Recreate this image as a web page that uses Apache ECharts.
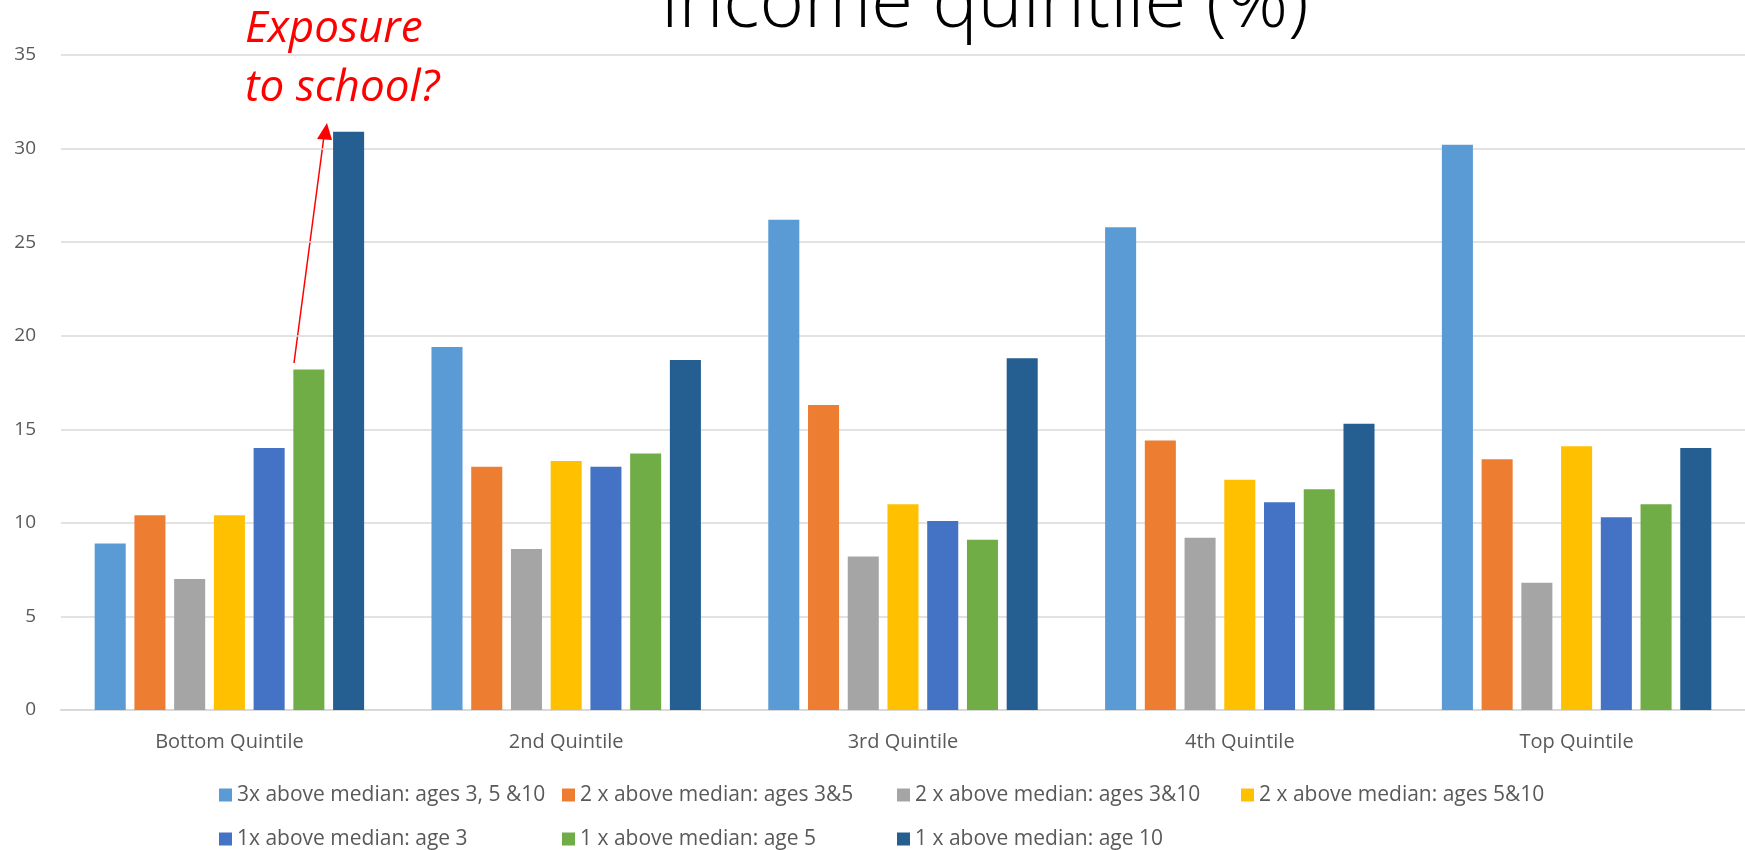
<!DOCTYPE html>
<html lang="en">
<head>
<meta charset="utf-8">
<title>Income quintile (%)</title>
<script src="https://cdn.jsdelivr.net/npm/echarts@6/dist/echarts.min.js"></script>
<style>
  html, body { margin: 0; padding: 0; background: #fff; }
  #chart { width: 1745px; height: 850px; }
</style>
</head>
<body>
<div id="chart"></div>
<script>
const QUINTILES = ["Bottom Quintile", "2nd Quintile", "3rd Quintile", "4th Quintile", "Top Quintile"];

const SERIES_NAMES = [
  "3x above median: ages 3, 5 &10",
  "2 x above median: ages 3&5",
  "2 x above median: ages 3&10",
  "2 x above median: ages 5&10",
  "1x above median: age 3",
  "1 x above median: age 5",
  "1 x above median: age 10"
];

const SERIES_COLORS = ["#5B9BD5", "#ED7D31", "#A5A5A5", "#FFC000", "#4472C4", "#70AD47", "#255E91"];

const ABOVE_3_5_10 = [8.9, 19.4, 26.2, 25.8, 30.2];
const ABOVE_3_5 = [10.4, 13.0, 16.3, 14.4, 13.4];
const ABOVE_3_10 = [7.0, 8.6, 8.2, 9.2, 6.8];
const ABOVE_5_10 = [10.4, 13.3, 11.0, 12.3, 14.1];
const ABOVE_AGE_3 = [14.0, 13.0, 10.1, 11.1, 10.3];
const ABOVE_AGE_5 = [18.2, 13.7, 9.1, 11.8, 11.0];
const ABOVE_AGE_10 = [30.9, 18.7, 18.8, 15.3, 14.0];

const Y_TICKS = [0, 5, 10, 15, 20, 25, 30, 35];

const LABEL_FONT = "'Open Sans', 'Liberation Sans', sans-serif";

document.addEventListener("DOMContentLoaded", () => {
  const chart = echarts.init(document.getElementById("chart"), null, { renderer: "canvas" });
  chart.setOption(buildOption());
});

function buildOption() {
  const values = [ABOVE_3_5_10, ABOVE_3_5, ABOVE_3_10, ABOVE_5_10, ABOVE_AGE_3, ABOVE_AGE_5, ABOVE_AGE_10];

  const series = SERIES_NAMES.map((name, i) => ({
    name,
    type: "bar",
    data: values[i],
    barGap: "28%",
    barCategoryGap: "20%",
    itemStyle: { color: SERIES_COLORS[i] },
    emphasis: { disabled: true }
  }));

  // one legend per key so the keys sit in columns like the original
  const columnLeft = [219, 562, 897, 1241];
  const rowTop = [784, 828];
  const legend = SERIES_NAMES.map((name, i) => ({
    data: [name],
    left: columnLeft[i % 4],
    top: rowTop[Math.floor(i / 4)],
    padding: 0,
    itemWidth: 13,
    itemHeight: 13,
    itemGap: 0,
    icon: "rect",
    selectedMode: false,
    textStyle: { fontFamily: LABEL_FONT, fontSize: 21, color: "#595959", lineHeight: 22 }
  }));

  return {
    animation: false,
    backgroundColor: "#ffffff",
    grid: { left: 61, right: -13, top: 55, bottom: 140, containLabel: false },
    legend,
    xAxis: {
      type: "category",
      data: QUINTILES,
      axisTick: { show: false },
      axisLine: { lineStyle: { color: "#d9d9d9", width: 2 } },
      axisLabel: { fontFamily: LABEL_FONT, fontSize: 20, color: "#595959", margin: 22 }
    },
    yAxis: {
      type: "value",
      min: Y_TICKS[0],
      max: Y_TICKS[Y_TICKS.length - 1],
      interval: 5,
      axisLine: { show: false },
      axisTick: { show: false },
      splitLine: { lineStyle: { color: "#d9d9d9", width: 1.5 } },
      axisLabel: { fontFamily: LABEL_FONT, fontSize: 19, color: "#595959", margin: 25 }
    },
    series,
    graphic: [
      {
        type: "text",
        x: 985,
        y: 5,
        style: {
          text: "income quintile (%)",
          fill: "#000000",
          font: "300 76px 'Open Sans', 'Liberation Sans', sans-serif",
          align: "center",
          verticalAlign: "middle"
        }
      },
      {
        type: "text",
        x: 245,
        y: 59,
        style: {
          text: "Exposure\nto school?",
          fill: "#FF0000",
          font: "italic 44px 'Open Sans', 'Liberation Sans', sans-serif",
          lineHeight: 59,
          align: "left",
          verticalAlign: "middle"
        }
      },
      {
        type: "line",
        shape: { x1: 294, y1: 363, x2: 324, y2: 136 },
        style: { stroke: "#FF0000", lineWidth: 1.5 }
      },
      {
        type: "polygon",
        shape: { points: [[327, 123], [317, 139], [332, 140]] },
        style: { fill: "#FF0000" }
      }
    ]
  };
}
</script>
</body>
</html>
